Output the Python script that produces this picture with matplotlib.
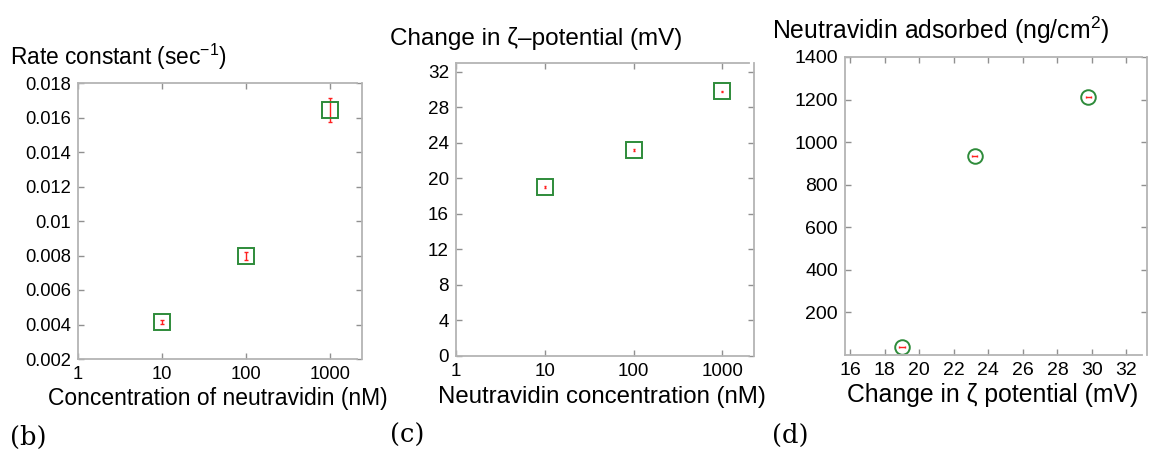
"""
Three-panel figure: rate constant, zeta-potential change and adsorbed neutravidin.
"""

import matplotlib
matplotlib.use("Agg")
import matplotlib.pyplot as plt
from matplotlib.ticker import FixedLocator, NullLocator

plt.rcParams["font.family"] = ["Liberation Sans", "DejaVu Sans"]

# (b) rate constant vs neutravidin concentration
conc_nm    = [10, 100, 1000]
rate_k     = [0.00415, 0.00797, 0.01644]
rate_k_err = [0.0001, 0.00024, 0.0007]

# (c) zeta-potential change vs concentration
zeta_change = [19.0, 23.2, 29.8]
zeta_err    = [0.1, 0.1, 0.1]

# (d) adsorbed neutravidin vs zeta-potential change
adsorbed   = [39, 933, 1212]
zeta_err_d = [0.15, 0.15, 0.15]

W, H = 1149, 450
GREEN = "#2e8b3a"
RED = "#ff2020"
SPINE = "#b4b4b4"


def px_axes(fig, left, top, right, bottom):
    return fig.add_axes([left / W, 1 - bottom / H, (right - left) / W, (bottom - top) / H])


def style(ax, labelsize):
    for s in ax.spines.values():
        s.set_color(SPINE)
        s.set_linewidth(1.3)
    ax.spines["right"].set_position(("outward", 3.5))
    ax.tick_params(direction="in", length=4, width=1, color="#909090",
                   top=True, right=True, labelsize=labelsize, pad=5)
    ax.xaxis.set_minor_locator(NullLocator())


fig = plt.figure(figsize=(W / 100, H / 100), dpi=100)

# panel (b)
ax = px_axes(fig, 78, 83, 357, 359)
ax.set_xscale("log")
ax.errorbar(conc_nm, rate_k, yerr=rate_k_err, fmt="none", ecolor=RED, elinewidth=1, capsize=1.5)
ax.plot(conc_nm, rate_k, ls="none", marker="s", ms=11.3, mfc="none", mec=GREEN, mew=1.4)
ax.set_xlim(1, 2100)
ax.set_ylim(0.002, 0.018)
ax.xaxis.set_major_locator(FixedLocator([1, 10, 100, 1000]))
ax.set_xticklabels(["1", "10", "100", "1000"])
ax.set_yticks([0.002, 0.004, 0.006, 0.008, 0.01, 0.012, 0.014, 0.016, 0.018])
ax.set_yticklabels(["0.002", "0.004", "0.006", "0.008", "0.01", "0.012", "0.014", "0.016", "0.018"])
style(ax, 13.2)
fig.text(10 / W, 1 - 57 / H, "Rate constant (sec$^{\\mathregular{-1}}$)", fontsize=16.4, va="center")
fig.text(218 / W, 1 - 398 / H, "Concentration of neutravidin (nM)", fontsize=16.5, ha="center", va="center")

# panel (c)
ax = px_axes(fig, 456, 63, 749, 356)
ax.set_xscale("log")
ax.errorbar(conc_nm, zeta_change, yerr=zeta_err, fmt="none", ecolor=RED, elinewidth=1, capsize=1)
ax.plot(conc_nm, zeta_change, ls="none", marker="s", ms=11.5, mfc="none", mec=GREEN, mew=1.4)
ax.set_xlim(1, 2000)
ax.set_ylim(0, 33)
ax.xaxis.set_major_locator(FixedLocator([1, 10, 100, 1000]))
ax.set_xticklabels(["1", "10", "100", "1000"])
ax.set_yticks(range(0, 33, 4))
style(ax, 13.6)
fig.text(390 / W, 1 - 38 / H, "Change in \u03b6\u2013potential (mV)", fontsize=17.5, va="center")
fig.text(602 / W, 1 - 397 / H, "Neutravidin concentration (nM)", fontsize=17.3, ha="center", va="center")

# panel (d)
ax = px_axes(fig, 845, 57, 1142, 355)
ax.errorbar(zeta_change, adsorbed, xerr=zeta_err_d, fmt="none", ecolor=RED, elinewidth=1, capsize=1)
ax.plot(zeta_change, adsorbed, ls="none", marker="o", ms=10.5, mfc="none", mec=GREEN, mew=1.4)
ax.set_xlim(15.7, 32.9)
ax.set_ylim(0, 1400)
ax.set_xticks(range(16, 33, 2))
ax.set_yticks(range(200, 1401, 200))
style(ax, 14)
fig.text(772 / W, 1 - 30 / H, "Neutravidin adsorbed (ng/cm$^{\\mathregular{2}}$)", fontsize=17.8, va="center")
fig.text(993 / W, 1 - 395 / H, "Change in \u03b6 potential (mV)", fontsize=17.8, ha="center", va="center")

# panel letters
for x, y, lab in [(10, 437, "(b)"), (390, 435, "(c)"), (772, 435, "(d)")]:
    fig.text(x / W, 1 - y / H, lab, fontsize=18.5, family=["DejaVu Serif"], va="center")

fig.savefig("out.png", dpi=100)
